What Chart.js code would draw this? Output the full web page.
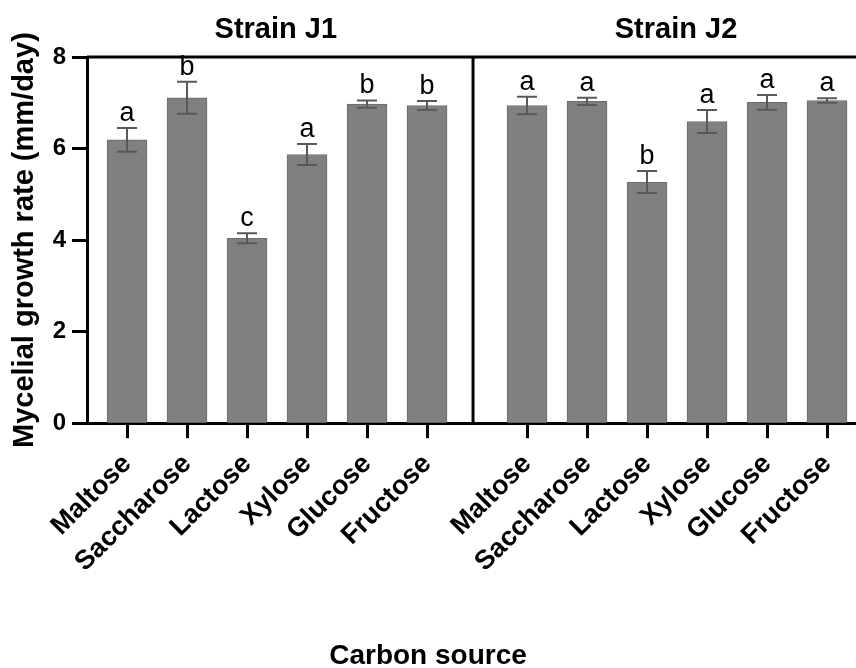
<!DOCTYPE html>
<html>
<head>
<meta charset="utf-8">
<script src="https://cdn.jsdelivr.net/npm/chart.js@4.4.0/dist/chart.umd.min.js"></script>
<style>
  html, body { margin: 0; padding: 0; background: #fff; overflow: hidden; }
  #wrap { width: 856px; height: 668px; position: relative; }
</style>
</head>
<body>
<div id="wrap"><canvas id="chart"></canvas></div>
<script>
// DATA
const categories = ["Maltose", "Saccharose", "Lactose", "Xylose", "Glucose", "Fructose"];
const strains = ["Strain J1", "Strain J2"];
const j1Means = [6.19, 7.11, 4.04, 5.87, 6.97, 6.94];
const j1Errors = [0.26, 0.35, 0.11, 0.23, 0.08, 0.10];
const j1Letters = ["a", "b", "c", "a", "b", "b"];
const j2Means = [6.94, 7.03, 5.27, 6.59, 7.01, 7.05];
const j2Errors = [0.19, 0.08, 0.24, 0.25, 0.16, 0.05];
const j2Letters = ["a", "a", "b", "a", "a", "a"];
const yTicks = [0, 2, 4, 6, 8];
const xTitle = "Carbon source";
const yTitle = "Mycelial growth rate (mm/day)";

// layout on the x axis (one unit = one bar slot)
const J2_OFFSET = 6.667;
const DIVIDER = 5.767;
const TITLE_POS = [2.48, 9.15];
const X_MIN = -0.667;
const X_MAX = 12.15;
const FONT = "'Liberation Sans', Arial, Helvetica, sans-serif";

const positions = categories.map((c, i) => i).concat(categories.map((c, i) => i + J2_OFFSET));
const labels = categories.concat(categories);
const means = j1Means.concat(j2Means);
const errors = j1Errors.concat(j2Errors);
const letters = j1Letters.concat(j2Letters);

const panelPlugin = {
  id: "panels",
  afterDatasetsDraw(chart) {
    const { ctx, chartArea, scales: { x, y } } = chart;
    const bars = chart.getDatasetMeta(0).data;
    ctx.save();
    ctx.strokeStyle = "#595959";
    ctx.lineWidth = 2;
    ctx.fillStyle = "#000";
    ctx.font = `27px ${FONT}`;
    ctx.textAlign = "center";
    ctx.textBaseline = "alphabetic";
    bars.forEach((bar, i) => {
      const hi = y.getPixelForValue(means[i] + errors[i]);
      const lo = y.getPixelForValue(means[i] - errors[i]);
      ctx.beginPath();
      ctx.moveTo(bar.x, hi); ctx.lineTo(bar.x, lo);
      ctx.moveTo(bar.x - 10, hi); ctx.lineTo(bar.x + 10, hi);
      ctx.moveTo(bar.x - 10, lo); ctx.lineTo(bar.x + 10, lo);
      ctx.stroke();
      ctx.fillText(letters[i], bar.x, hi - 7);
    });
    // top frame line and divider between strains
    ctx.strokeStyle = "#000";
    ctx.lineWidth = 3;
    ctx.beginPath();
    ctx.moveTo(chartArea.left, chartArea.top);
    ctx.lineTo(chartArea.right, chartArea.top);
    const dx = x.getPixelForValue(DIVIDER);
    ctx.moveTo(dx, chartArea.top);
    ctx.lineTo(dx, chartArea.bottom);
    ctx.stroke();
    ctx.font = `bold 29px ${FONT}`;
    strains.forEach((s, k) => ctx.fillText(s, x.getPixelForValue(TITLE_POS[k]), 38));
    ctx.restore();
  }
};

new Chart(document.getElementById("chart"), {
  type: "bar",
  data: {
    datasets: [{
      data: positions.map((p, i) => ({ x: p, y: means[i] })),
      backgroundColor: "#808080",
      borderColor: "#6b6b6b",
      borderWidth: 1,
      barThickness: 40,
    }],
  },
  options: {
    responsive: true,
    maintainAspectRatio: false,
    animation: false,
    layout: { padding: { top: 57, left: 0, right: 0, bottom: 0 } },
    plugins: {
      legend: { display: false },
      tooltip: { enabled: false },
      title: {
        display: true,
        position: "bottom",
        text: xTitle,
        color: "#000",
        font: { family: FONT, size: 28, weight: "bold", lineHeight: 0.85 },
        padding: 0,
      },
    },
    scales: {
      x: {
        type: "linear",
        min: X_MIN,
        max: X_MAX,
        offset: false,
        z: 1,
        afterBuildTicks: (scale) => { scale.ticks = positions.map((v) => ({ value: v })); },
        afterFit: (scale) => {
          scale.height = 221;
          scale.paddingLeft = 0;
          scale.paddingRight = 0;
        },
        grid: { offset: false, drawOnChartArea: false, drawTicks: true, tickLength: 15, tickWidth: 3, tickColor: "#000" },
        border: { display: true, color: "#000", width: 3 },
        ticks: {
          autoSkip: false,
          minRotation: 45,
          maxRotation: 45,
          padding: 10,
          color: "#000",
          font: { family: FONT, size: 27, weight: "bold" },
          callback: (v, i) => labels[i],
        },
      },
      y: {
        min: 0,
        max: 8,
        z: 1,
        afterBuildTicks: (scale) => { scale.ticks = yTicks.map((v) => ({ value: v })); },
        afterFit: (scale) => { scale.width = 87; },
        grid: { drawOnChartArea: false, drawTicks: true, tickLength: 15, tickWidth: 3, tickColor: "#000" },
        border: { display: true, color: "#000", width: 3 },
        ticks: { padding: 6, color: "#000", font: { family: FONT, size: 24, weight: "bold" } },
        title: {
          display: true,
          text: yTitle,
          color: "#000",
          font: { family: FONT, size: 29, weight: "bold", lineHeight: 1.2 },
          padding: { top: 8, bottom: 0 },
        },
      },
    },
  },
  plugins: [panelPlugin],
});
</script>
</body>
</html>
